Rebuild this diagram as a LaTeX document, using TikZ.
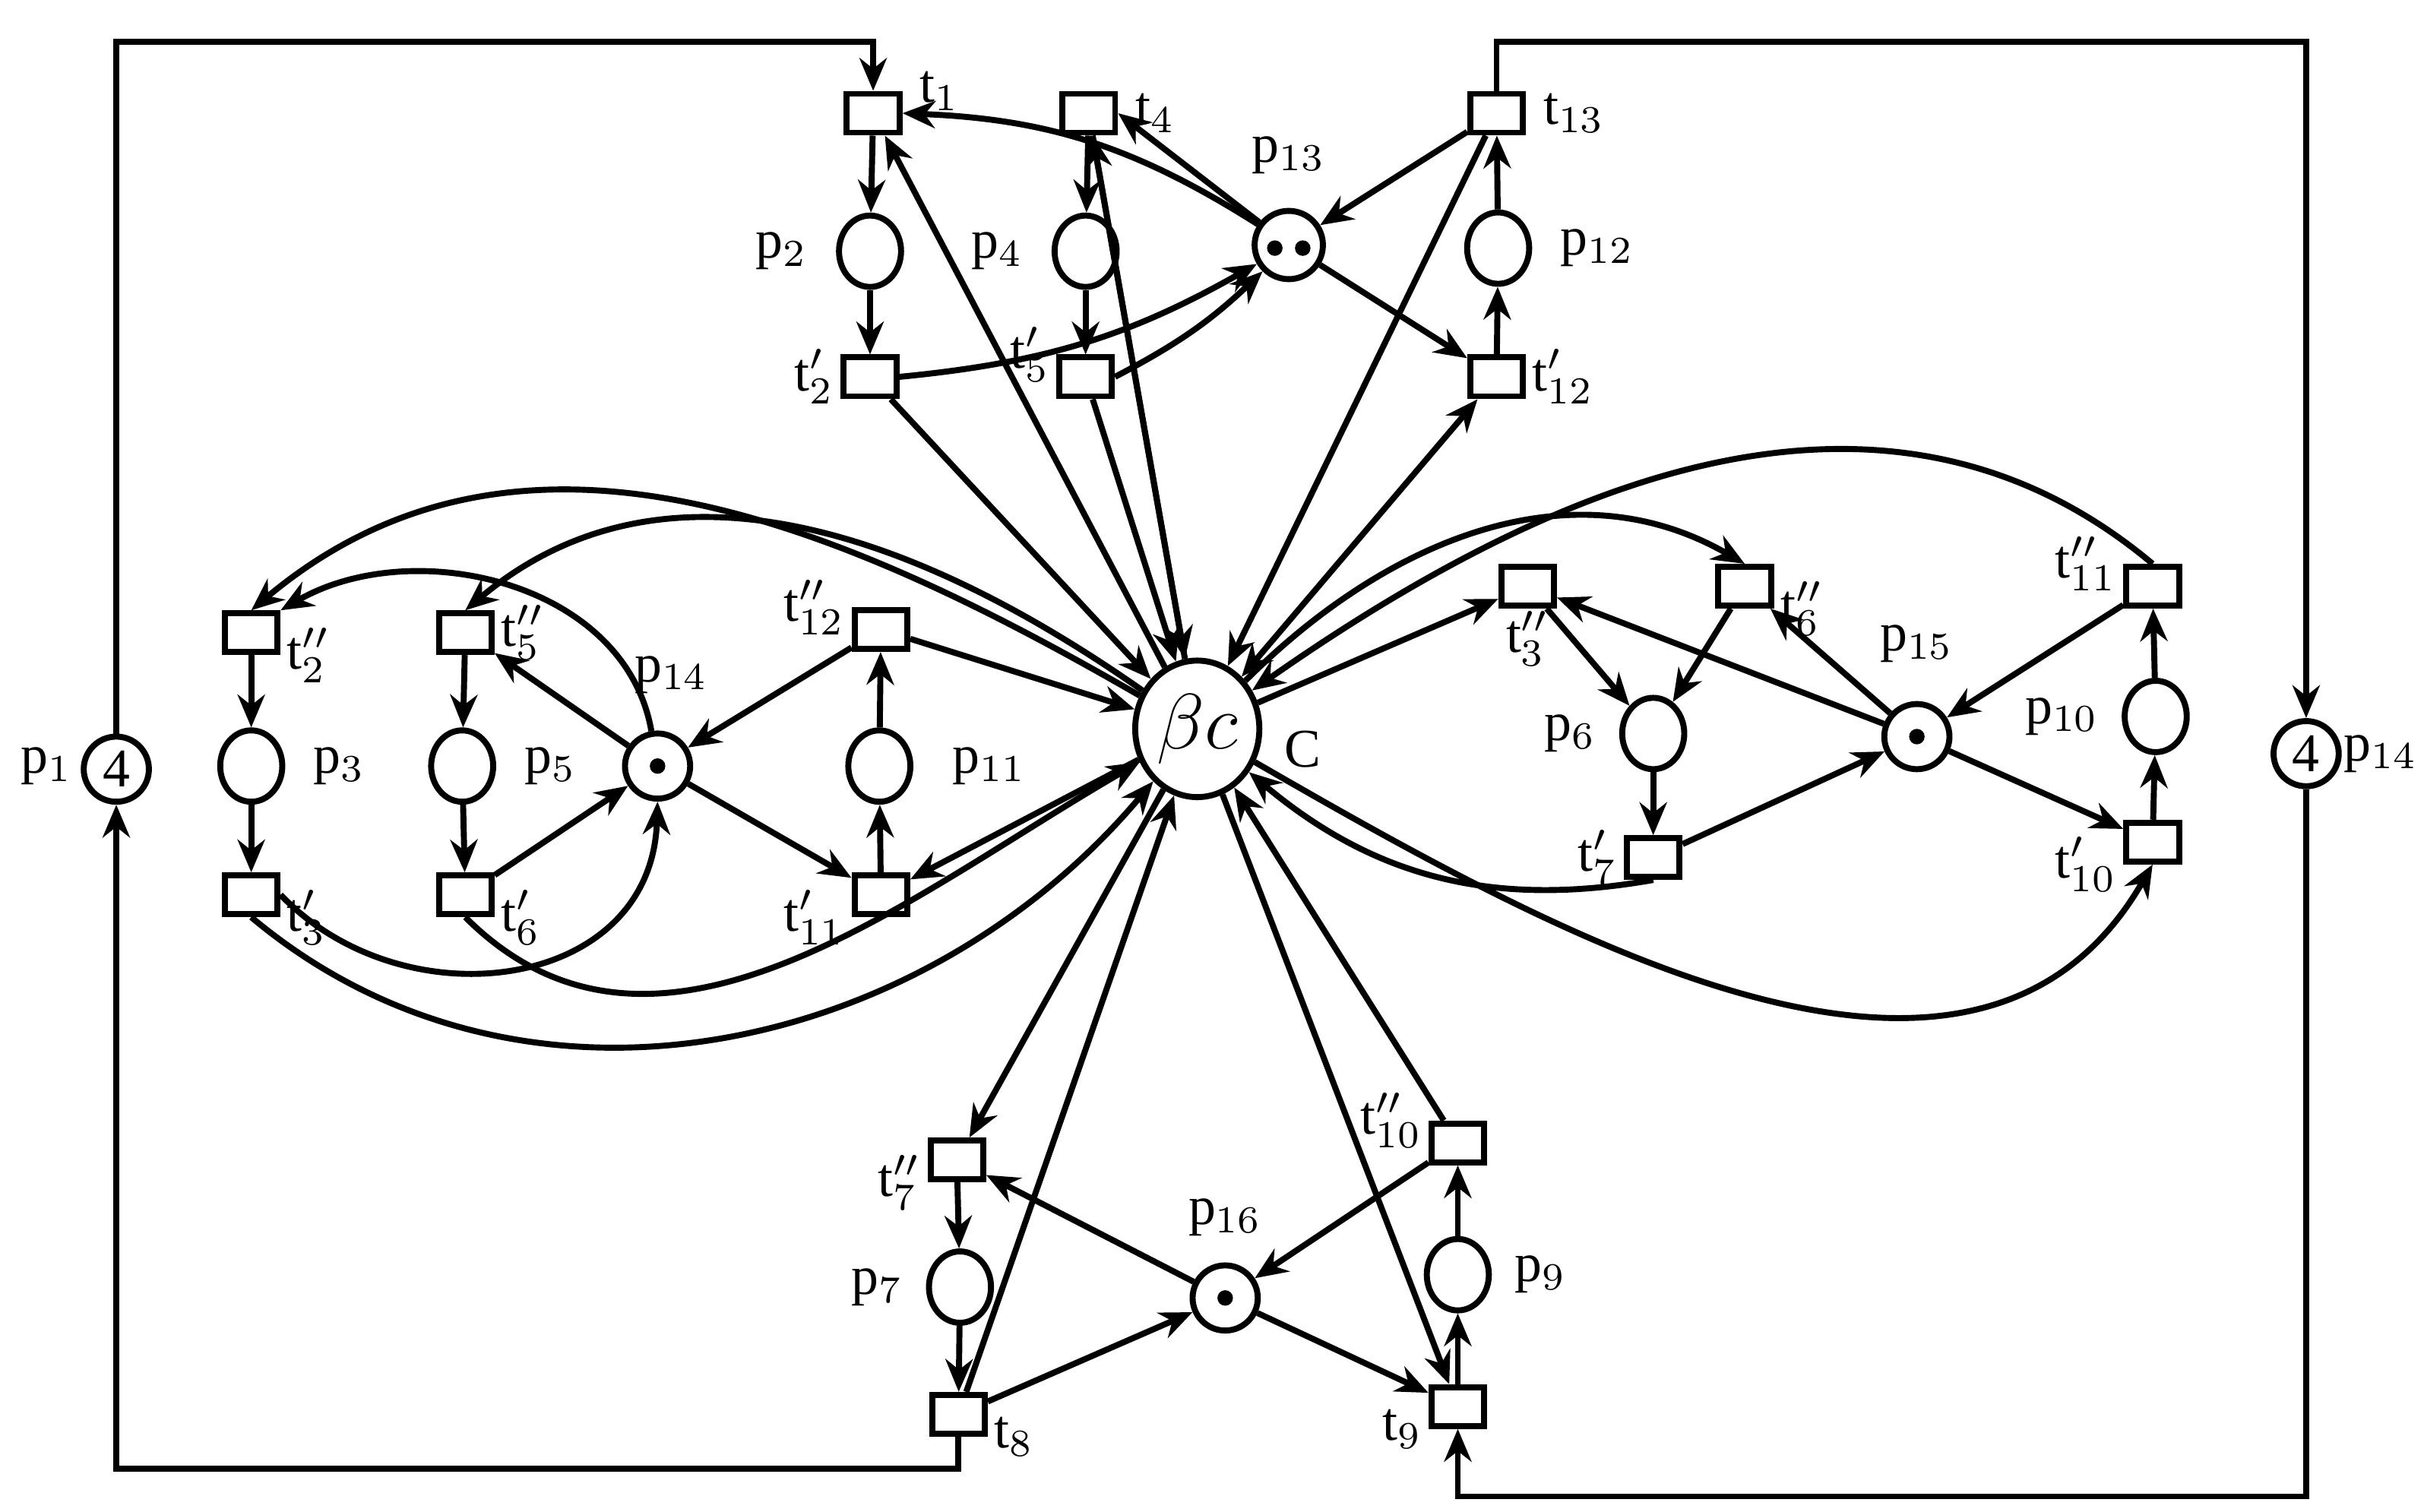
\documentclass[tikz,border=0pt]{standalone}
\usepackage{fontspec}
\setmainfont{Liberation Serif}
\usetikzlibrary{arrows.meta,shapes.geometric}
\begin{document}
\begin{tikzpicture}[x=0.01cm,y=-0.01cm,
  every node/.style={font=\fontsize{10}{12}\selectfont},
  tr/.style={draw,line width=1.1pt,minimum width=0.34cm,minimum height=0.25cm,inner sep=0pt},
  pl/.style={draw,line width=1.1pt,ellipse,minimum width=0.4cm,minimum height=0.46cm,inner sep=0pt},
  tok/.style={pl,minimum width=0.42cm,minimum height=0.42cm},
  lab/.style={inner sep=1pt},
  arr/.style={-{Stealth[length=6pt,width=5pt]},line width=1.1pt},
  dot/.style={circle,fill,inner sep=0pt,minimum size=0.1cm}]
\useasboundingbox (0,0) rectangle (1563,975);
% top
\node[tr] (t1) at (563,73) {}; \node[lab,right=2pt] at (t1.north east) {t$_1$};
\node[tr] (t4) at (702,73) {}; \node[lab,right=2pt] at (t4.east) {t$_4$};
\node[tr] (t13) at (965,73) {}; \node[lab,right=2pt] at (t13.east) {t$_{13}$};
\node[pl] (p2) at (561,162) {}; \node[lab,left=4pt] at (p2.west) {p$_2$};
\node[pl] (p4) at (700,162) {}; \node[lab,left=4pt] at (p4.west) {p$_4$};
\node[pl,minimum width=0.44cm,minimum height=0.44cm] (p13) at (831,158) {};
\node[dot] at (822,160) {}; \node[dot] at (840,160) {};
\node[lab] at (831,100) {p$_{13}$};
\node[pl] (p12) at (966,160) {}; \node[lab,right=4pt] at (p12.east) {p$_{12}$};
\node[tr] (t2p) at (561,243) {}; \node[lab,left] at (t2p.west) {t$'_2$};
\node[tr] (t5p) at (700,243) {}; \node[lab,left] at (t5p.north west) {t$'_5$};
\node[tr] (t12p) at (965,243) {}; \node[lab,right] at (t12p.east) {t$'_{12}$};
% centre
\node[draw,line width=1.1pt,ellipse,minimum width=0.8cm,minimum height=0.88cm,inner sep=0pt] (C) at (772,470) {\fontsize{14}{16}\selectfont$\beta c$};
\node[lab] at (840,483) {C};
% left
\node[tr] (t2pp) at (162,408) {}; \node[lab,right] at (t2pp.south east) {t$''_2$};
\node[tr] (t5pp) at (300,408) {}; \node[lab,right] at (t5pp.east) {t$''_5$};
\node[tr] (t12pp) at (568,406) {}; \node[lab,left] at (t12pp.north west) {t$''_{12}$};
\node[pl] (p3) at (162,494) {}; \node[lab,right=4pt] at (p3.east) {p$_3$};
\node[pl] (p5) at (298,494) {}; \node[lab,right=4pt] at (p5.east) {p$_5$};
\node[tok] (p14l) at (424,494) {}; \node[dot] at (p14l) {}; \node[lab] at (433,435) {p$_{14}$};
\node[pl] (p11) at (567,494) {}; \node[lab,right=6pt] at (p11.east) {p$_{11}$};
\node[tr] (t3p) at (162,577) {}; \node[lab,right] at (t3p.south east) {t$'_3$};
\node[tr] (t6p) at (300,577) {}; \node[lab,right] at (t6p.south east) {t$'_6$};
\node[tr] (t11p) at (568,577) {}; \node[lab,left] at (t11p.south west) {t$'_{11}$};
\node[tok] (p1) at (75,496) {4}; \node[lab] at (30,494) {p$_1$};
% right
\node[tr] (t3pp) at (985,378) {}; \node[lab] at (985,412) {t$''_3$};
\node[tr] (t6pp) at (1125,378) {}; \node[lab,right] at (t6pp.south east) {t$''_6$};
\node[tok] (p15) at (1236,475) {}; \node[dot] at (p15) {}; \node[lab] at (1236,415) {p$_{15}$};
\node[tr] (t11pp) at (1388,378) {}; \node[lab,left] at (t11pp.north west) {t$''_{11}$};
\node[pl] (p6) at (1066,473) {}; \node[lab,left=3pt] at (p6.west) {p$_6$};
\node[pl] (p10) at (1390,462) {}; \node[lab,left=3pt] at (p10.west) {p$_{10}$};
\node[tr] (t7p) at (1066,553) {}; \node[lab,left] at (t7p.west) {t$'_7$};
\node[tr] (t10p) at (1388,543) {}; \node[lab,left] at (t10p.south west) {t$'_{10}$};
\node[tok] (p14r) at (1487,486) {4}; \node[lab] at (1535,486) {p$_{14}$};
% bottom
\node[tr] (t7pp) at (617,748) {}; \node[lab,left] at (t7pp.south west) {t$''_7$};
\node[pl] (p7) at (619,830) {}; \node[lab,left=3pt] at (p7.west) {p$_7$};
\node[tr] (t8) at (618,912) {}; \node[lab,right] at (t8.south east) {t$_8$};
\node[tok] (p16) at (790,837) {}; \node[dot] at (p16) {}; \node[lab] at (790,785) {p$_{16}$};
\node[tr] (t10pp) at (940,737) {}; \node[lab,left] at (t10pp.north west) {t$''_{10}$};
\node[pl] (p9) at (940,822) {}; \node[lab,right=3pt] at (p9.east) {p$_9$};
\node[tr] (t9) at (940,907) {}; \node[lab,left] at (t9.south west) {t$_9$};
\coordinate (a1) at (75,27); \coordinate (a2) at (75,947);
\coordinate (b1) at (1487,27); \coordinate (b2) at (1487,965);
\begin{scope}[every path/.style={arr}]
% loops
\draw (p1) |- (a1) -| (t1);
\draw (t8) |- (a2) -| (p1);
\draw (t13) |- (b1) -| (p14r);
\draw (p14r) |- (b2) -| (t9);
% top
\draw (t1)--(p2); \draw (p2)--(t2p); \draw (t4)--(p4); \draw (p4)--(t5p);
\draw (t12p)--(p12); \draw (p12)--(t13);
\draw (p13) to[bend right=15] (t1.east);
\draw (p13)--(t4.east);
\draw (t2p.east) to[bend right=12] (p13);
\draw (t5p.east) to[bend right=8] (p13);
\draw (t13)--(p13); \draw (p13)--(t12p);
\draw (C)--(t1); \draw (C)--(t4); \draw (t4)--(C);
\draw (t2p)--(C); \draw (t5p)--(C); \draw (t13)--(C); \draw[{Stealth[length=6pt,width=5pt]}-{Stealth[length=6pt,width=5pt]}] (C)--(t12p);
% left
\draw (t2pp)--(p3); \draw (p3)--(t3p); \draw (t5pp)--(p5); \draw (p5)--(t6p);
\draw (t11p)--(p11); \draw (p11)--(t12pp);
\draw (p14l)--(t5pp); \draw (t12pp)--(p14l); \draw (p14l)--(t11p); \draw (t6p)--(p14l);
\draw (p14l) to[out=100,in=30] (t2pp.north east);
\draw (t3p.east) .. controls (260,660) and (420,640) .. (p14l.south);
\draw (C) to[out=150,in=40] (t2pp.north);
\draw (C) to[out=145,in=40] (t5pp.north);
\draw (t12pp)--(C); \draw (C)--(t11p);
\draw (t6p.south) to[out=-45,in=-150] (C);
\draw (t3p.south) to[out=-40,in=-130] (C);
% right
\draw (t3pp)--(p6); \draw (t6pp)--(p6); \draw (p6)--(t7p);
\draw (t10p)--(p10); \draw (p10)--(t11pp);
\draw (p15)--(t3pp); \draw (p15)--(t6pp); \draw (t7p)--(p15); \draw (t11pp)--(p15); \draw (p15)--(t10p);
\draw (C)--(t3pp);
\draw (C) to[out=45,in=150] (t6pp.north);
\draw (t11pp.north) to[out=140,in=35] (C);
\draw (t7p.south) to[out=-170,in=-40] (C);
\draw (C) to[out=-30,in=-120] (t10p.south);
% bottom
\draw (t7pp)--(p7); \draw (p7)--(t8); \draw (t9)--(p9); \draw (p9)--(t10pp);
\draw (p16)--(t7pp); \draw (t8)--(p16); \draw (t10pp)--(p16); \draw (p16)--(t9);
\draw (C)--(t7pp); \draw (t8)--(C); \draw (t10pp)--(C); \draw (C)--(t9);
\end{scope}
\end{tikzpicture}
\end{document}
